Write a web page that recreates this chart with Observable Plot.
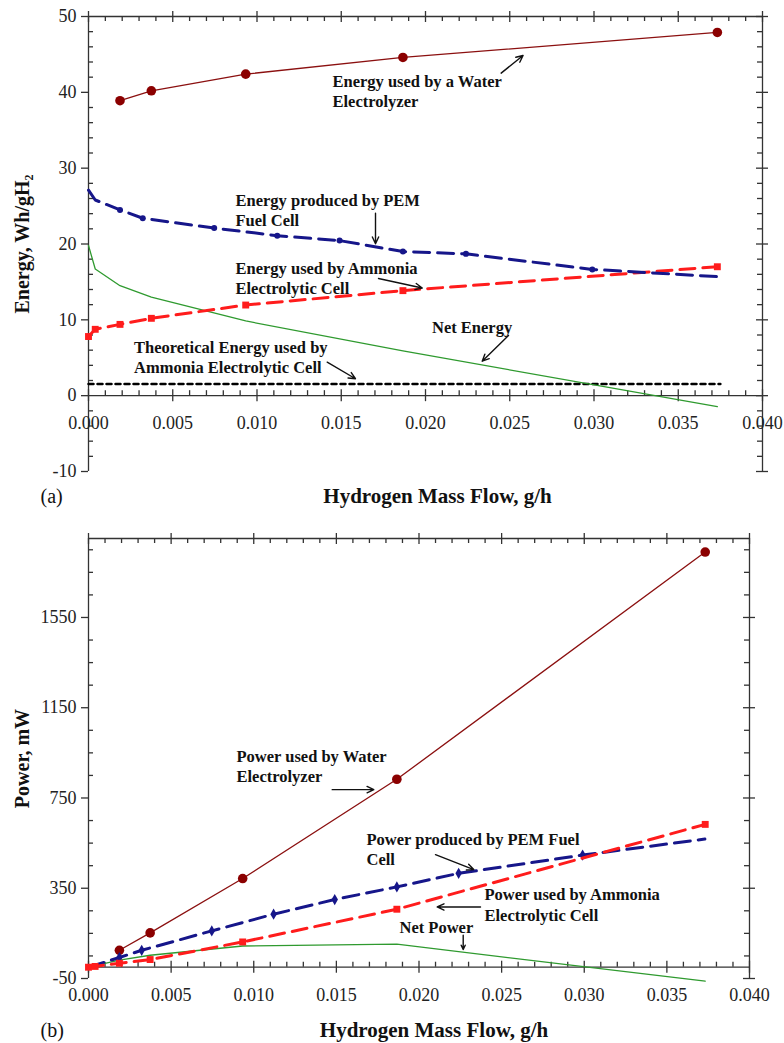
<!DOCTYPE html>
<html><head><meta charset="utf-8">
<script src="https://cdn.jsdelivr.net/npm/d3@7"></script>
<script src="https://cdn.jsdelivr.net/npm/@observablehq/plot@0.6"></script>
<style>
body{margin:0;background:#fff;}
#chart svg{display:block;}
</style></head><body><div id="chart"></div>
<script>
// ---------- DATA ----------
const flowTicks = [0, 0.005, 0.010, 0.015, 0.020, 0.025, 0.030, 0.035, 0.040];
const energyTicks = [-10, 0, 10, 20, 30, 40, 50];
const powerTicks = [-50, 350, 750, 1150, 1550];

// Water electrolyzer
const waterX = [0.00187, 0.00373, 0.00933, 0.01866, 0.03732];
const waterEnergy = [38.9, 40.2, 42.4, 44.6, 47.9];
const waterPower = [75, 152, 393, 833, 1840];

// PEM fuel cell
const pemEnergyX = [0, 0.0004, 0.00187, 0.00322, 0.00746, 0.0112, 0.0149, 0.01866, 0.0224, 0.0299, 0.0373];
const pemEnergy = [27.1, 25.8, 24.5, 23.4, 22.1, 21.1, 20.45, 19.0, 18.7, 16.65, 15.7];
const pemEnergyMarked = [0, 0, 1, 1, 1, 1, 1, 1, 1, 1, 0];
const pemPowerX = [0, 0.00187, 0.00322, 0.00746, 0.0112, 0.0149, 0.01866, 0.0224, 0.0299, 0.0373];
const pemPower = [0, 43, 75, 161, 235, 300, 356, 416, 497, 568];
const pemPowerMarked = [0, 1, 1, 1, 1, 1, 1, 1, 1, 0];

// Ammonia electrolytic cell
const nh3X = [0, 0.0004, 0.00187, 0.00373, 0.00933, 0.01866, 0.03732];
const nh3Energy = [7.8, 8.75, 9.4, 10.2, 11.95, 13.85, 17.0];
const nh3Power = [0, 3.5, 17.6, 34, 112, 257, 633];

// Net
const netEnergyX = [0, 0.0004, 0.00187, 0.00373, 0.00933, 0.01866, 0.03732];
const netEnergy = [19.8, 16.7, 14.5, 13.0, 9.85, 5.9, -1.45];
const netPowerX = [0, 0.00187, 0.00373, 0.00933, 0.01866, 0.03732];
const netPower = [0, 31, 53, 94, 102, -62];

// Theoretical ammonia electrolysis energy
const theoX = [0, 0.0375];
const theoEnergy = [1.55, 1.55];

// Annotations (data units)
const energyNotes = [
  {x: 0.01448, y: 41.43, text: "Energy used by a Water"},
  {x: 0.01448, y: 38.73, text: "Electrolyzer"},
  {x: 0.008724, y: 25.74, text: "Energy produced by PEM"},
  {x: 0.008724, y: 23.11, text: "Fuel Cell"},
  {x: 0.008724, y: 16.71, text: "Energy used by Ammonia"},
  {x: 0.008724, y: 14.07, text: "Electrolytic Cell"},
  {x: 0.020386, y: 8.93, text: "Net Energy"},
  {x: 0.0027, y: 6.29, text: "Theoretical Energy used by"},
  {x: 0.0027, y: 3.65, text: "Ammonia Electrolytic Cell"}
];
const energyArrows = [
  {x1: 0.02449, y1: 42.53, x2: 0.02579, y2: 44.86},
  {x1: 0.017033, y1: 24.07, x2: 0.017033, y2: 20.03},
  {x1: 0.01721, y1: 15.45, x2: 0.019804, y2: 14.20},
  {x1: 0.024926, y1: 7.93, x2: 0.023365, y2: 4.55},
  {x1: 0.014166, y1: 4.42, x2: 0.015846, y2: 2.23}
];
const powerNotes = [
  {x: 0.008956, y: 934.5, text: "Power used by Water"},
  {x: 0.008956, y: 842.8, text: "Electrolyzer"},
  {x: 0.016823, y: 566.9, text: "Power produced by PEM Fuel"},
  {x: 0.016823, y: 478.3, text: "Cell"},
  {x: 0.023964, y: 322.0, text: "Power used by Ammonia"},
  {x: 0.023964, y: 230.3, text: "Electrolytic Cell"},
  {x: 0.01882, y: 174.1, text: "Net Power"}
];
const powerArrows = [
  {x1: 0.014747, y1: 787.0, x2: 0.017265, y2: 787.0},
  {x1: 0.020998, y1: 499.1, x2: 0.023316, y2: 432.7},
  {x1: 0.023722, y1: 267.1, x2: 0.021101, y2: 267.1},
  {x1: 0.022675, y1: 141.7, x2: 0.022675, y2: 78.4}
];

// ---------- STYLE ----------
const C = {water: "#8b1010", waterDot: "#8b0000", pem: "#16168a", nh3: "#ff1c1c", net: "#2f9a2f", theo: "#000", axis: "#333"};
const FONT = "'Liberation Serif', 'Times New Roman', serif";
const fmt = d3.format(".3f");
const xMinor = d3.range(1, 40).map(i => i / 1000).filter(v => Math.round(v * 1000) % 5 !== 0);

function frame(xMax, yMin, yMax, yMajor, yMinor) {
  const s = {stroke: C.axis, strokeWidth: 1.3};
  return [
    Plot.ruleX([0, xMax], {x: d => d, y1: yMin, y2: yMax, ...s}),
    Plot.ruleY([yMax, 0], {y: d => d, x1: 0, x2: xMax, ...s}),
    Plot.ruleX(flowTicks, {x: d => d, y1: yMax, y2: yMax, insetTop: -5, insetBottom: -6, ...s}),
    Plot.ruleX(xMinor, {x: d => d, y1: yMax, y2: yMax, insetTop: 0, insetBottom: -5, ...s}),
    Plot.ruleX(flowTicks, {x: d => d, y1: 0, y2: 0, insetTop: -6, insetBottom: -6, ...s}),
    Plot.ruleX(xMinor, {x: d => d, y1: 0, y2: 0, insetTop: -5, insetBottom: 0, ...s}),
    Plot.ruleY(yMajor, {y: d => d, x1: 0, x2: 0, insetLeft: -7, insetRight: 0, ...s}),
    Plot.ruleY(yMinor, {y: d => d, x1: 0, x2: 0, insetLeft: 0, insetRight: -5, ...s}),
    Plot.ruleY(yMajor, {y: d => d, x1: xMax, x2: xMax, insetLeft: -6, insetRight: -6, ...s}),
    Plot.ruleY(yMinor, {y: d => d, x1: xMax, x2: xMax, insetLeft: -5, insetRight: 0, ...s}),
    Plot.text(flowTicks, {x: d => d, y: 0, text: d => fmt(d), dy: 28, fontSize: 18, fill: "#222"}),
    Plot.text(yMajor, {x: 0, y: d => d, text: d => String(d), textAnchor: "end", dx: -12, fontSize: 18, fill: "#222"})
  ];
}

function titles(yTitle, tag, dyBottom, dxTitle) {
  return [
    Plot.text([yTitle], {text: d => d, frameAnchor: "left", rotate: -90, dx: -66, textAnchor: "middle", lineAnchor: "middle", fontSize: 20, fontWeight: "bold", fill: "#111"}),
    Plot.text(["Hydrogen Mass Flow, g/h"], {text: d => d, frameAnchor: "bottom", dx: dxTitle, dy: dyBottom, textAnchor: "middle", lineAnchor: "middle", fontSize: 21, fontWeight: "bold", fill: "#111"}),
    Plot.text([tag], {text: d => d, frameAnchor: "bottom-left", dx: -48, dy: dyBottom, textAnchor: "start", lineAnchor: "middle", fontSize: 20, fill: "#111"})
  ];
}

function notes(ns, arrows) {
  return [
    Plot.text(ns, {x: "x", y: "y", text: "text", textAnchor: "start", fontSize: 16.5, fontWeight: "bold", fill: "#111"}),
    Plot.arrow(arrows, {x1: "x1", y1: "y1", x2: "x2", y2: "y2", stroke: "#111", strokeWidth: 1.4, headLength: 8, headAngle: 50})
  ];
}

// ---------- TOP (a) ----------
const energyMinor = d3.range(-10, 51, 2).filter(v => v % 10 !== 0);
const chartA = Plot.plot({
  width: 784, height: 520,
  marginTop: 16, marginBottom: 49, marginLeft: 88, marginRight: 22,
  style: {fontFamily: FONT, background: "#fff", overflow: "visible"},
  x: {domain: [0, 0.04], axis: null},
  y: {domain: [-10, 50], axis: null},
  marks: [
    ...frame(0.04, -10, 50, energyTicks, energyMinor),
    Plot.line(theoX, {x: theoX, y: theoEnergy, stroke: C.theo, strokeWidth: 2.5, strokeDasharray: "5,4"}),
    Plot.line(netEnergyX, {x: netEnergyX, y: netEnergy, stroke: C.net, strokeWidth: 1.3}),
    Plot.line(waterX, {x: waterX, y: waterEnergy, stroke: C.water, strokeWidth: 1.3}),
    Plot.dot(waterX, {x: waterX, y: waterEnergy, r: 4.8, fill: C.waterDot, stroke: "none"}),
    Plot.line(nh3X, {x: nh3X, y: nh3Energy, stroke: C.nh3, strokeWidth: 3, strokeDasharray: "15,8"}),
    Plot.dot(nh3X, {x: nh3X, y: nh3Energy, r: 3.9, symbol: "square", fill: C.nh3, stroke: "none"}),
    Plot.line(pemEnergyX, {x: pemEnergyX, y: pemEnergy, stroke: C.pem, strokeWidth: 3, strokeDasharray: "16,8"}),
    Plot.dot(pemEnergyX, {x: pemEnergyX, y: pemEnergy, filter: pemEnergyMarked, r: 3, fill: C.pem, stroke: "none"}),
    ...notes(energyNotes, energyArrows),
    ...titles("Energy, Wh/gH\u2082", "(a)", 25, 12)
  ]
});

// ---------- BOTTOM (b) ----------
const powerMinor = d3.range(50, 1900, 100).filter(v => !powerTicks.includes(v));
const chartB = Plot.plot({
  width: 784, height: 523,
  marginTop: 18, marginBottom: 65, marginLeft: 88, marginRight: 35,
  style: {fontFamily: FONT, background: "#fff", overflow: "visible"},
  x: {domain: [0, 0.04], axis: null},
  y: {domain: [-50, 1900], axis: null},
  marks: [
    ...frame(0.04, -50, 1900, powerTicks, powerMinor),
    Plot.line(netPowerX, {x: netPowerX, y: netPower, stroke: C.net, strokeWidth: 1.3}),
    Plot.line(waterX, {x: waterX, y: waterPower, stroke: C.water, strokeWidth: 1.3}),
    Plot.dot(waterX, {x: waterX, y: waterPower, r: 4.8, fill: C.waterDot, stroke: "none"}),
    Plot.line(pemPowerX, {x: pemPowerX, y: pemPower, stroke: C.pem, strokeWidth: 3, strokeDasharray: "16,8"}),
    Plot.dot(pemPowerX, {x: pemPowerX, y: pemPower, filter: pemPowerMarked, r: 3.4, symbol: "diamond", fill: C.pem, stroke: "none"}),
    Plot.line(nh3X, {x: nh3X, y: nh3Power, stroke: C.nh3, strokeWidth: 3, strokeDasharray: "15,8"}),
    Plot.dot(nh3X, {x: nh3X, y: nh3Power, r: 3.9, symbol: "square", fill: C.nh3, stroke: "none"}),
    ...notes(powerNotes, powerArrows),
    ...titles("Power, mW", "(b)", 52, 15)
  ]
});

const el = document.getElementById("chart");
el.appendChild(chartA);
el.appendChild(chartB);
</script></body></html>
